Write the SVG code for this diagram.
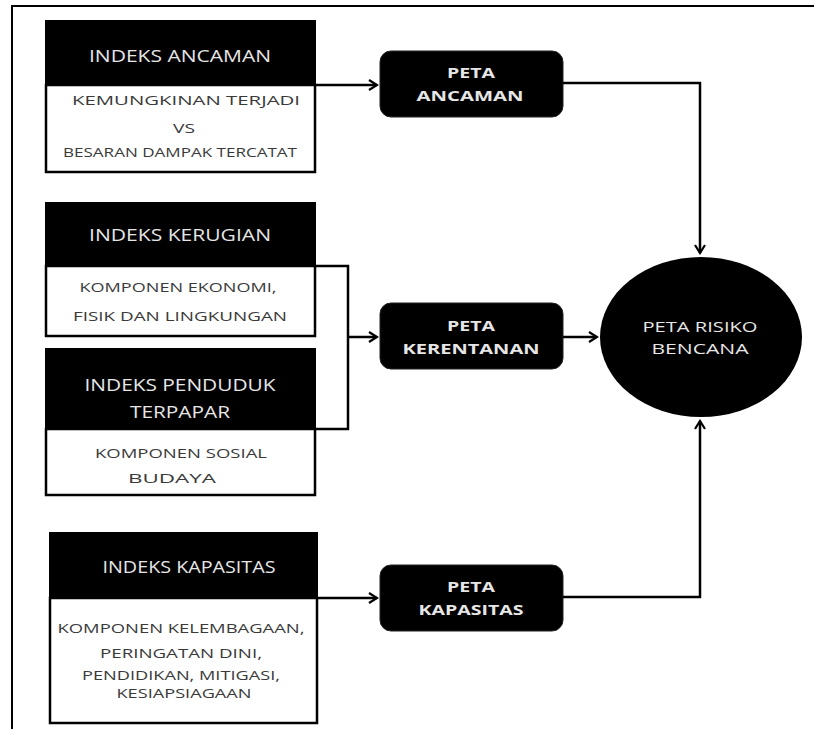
<svg xmlns="http://www.w3.org/2000/svg" width="814" height="729" viewBox="0 0 814 729">
<style>
.bg{fill:#fff}
.frame{fill:none;stroke:#000;stroke-width:2}
.hdr{fill:#000;stroke:#000;stroke-width:2}
.body{fill:#fff;stroke:#000;stroke-width:2.5}
.peta{fill:#000;stroke:#222;stroke-width:1}
.ht{font-family:"Open Sans","Noto Sans",sans-serif;font-size:16px;fill:#e6e6e6;text-anchor:middle}
.bt{font-family:"Open Sans","Noto Sans",sans-serif;font-size:12.5px;fill:#3a3a3a;text-anchor:middle}
.pt{font-family:"Open Sans","Noto Sans",sans-serif;font-size:15px;font-weight:bold;fill:#e6e6e6;text-anchor:middle}
.rt{font-family:"Open Sans","Noto Sans",sans-serif;font-size:15px;fill:#e6e6e6;text-anchor:middle}
.con{fill:none;stroke:#000;stroke-width:2.5}
</style>
<defs>
<marker id="arr" markerWidth="12" markerHeight="12" refX="10" refY="6" orient="auto" markerUnits="userSpaceOnUse">
<path d="M2,1 L10,6 L2,11" fill="none" stroke="#000" stroke-width="2.2"/>
</marker>
</defs>
<rect class="bg" x="0" y="0" width="814" height="729"/>
<path class="frame" d="M12,729 L12,6 L814,6"/>

<g id="indeks-ancaman">
<rect class="body" x="46" y="85" width="269" height="87"/>
<rect class="hdr" x="46" y="21" width="269" height="64"/>
<text class="ht" x="180" y="62" textLength="182" lengthAdjust="spacingAndGlyphs">INDEKS ANCAMAN</text>
<text class="bt" x="186" y="105" textLength="228" lengthAdjust="spacingAndGlyphs">KEMUNGKINAN TERJADI</text>
<text class="bt" x="184" y="133" textLength="22" lengthAdjust="spacingAndGlyphs">VS</text>
<text class="bt" x="180" y="157" textLength="234" lengthAdjust="spacingAndGlyphs">BESARAN DAMPAK TERCATAT</text>
</g>

<g id="indeks-kerugian">
<rect class="body" x="46" y="266" width="269" height="70"/>
<rect class="hdr" x="46" y="203" width="269" height="63"/>
<text class="ht" x="180" y="241" textLength="182" lengthAdjust="spacingAndGlyphs">INDEKS KERUGIAN</text>
<text class="bt" x="178" y="292" textLength="197" lengthAdjust="spacingAndGlyphs">KOMPONEN EKONOMI,</text>
<text class="bt" x="180" y="321" textLength="214" lengthAdjust="spacingAndGlyphs">FISIK DAN LINGKUNGAN</text>
</g>

<g id="indeks-penduduk">
<rect class="body" x="46" y="429" width="269" height="66"/>
<rect class="hdr" x="46" y="349" width="269" height="80"/>
<text class="ht" x="180" y="391" textLength="191" lengthAdjust="spacingAndGlyphs">INDEKS PENDUDUK</text>
<text class="ht" x="180" y="418" textLength="100" lengthAdjust="spacingAndGlyphs">TERPAPAR</text>
<text class="bt" x="181" y="458" textLength="172" lengthAdjust="spacingAndGlyphs">KOMPONEN SOSIAL</text>
<text class="bt" x="172" y="483" textLength="88" lengthAdjust="spacingAndGlyphs">BUDAYA</text>
</g>

<g id="indeks-kapasitas">
<rect class="body" x="50" y="598" width="267" height="125"/>
<rect class="hdr" x="50" y="533" width="267" height="65"/>
<text class="ht" x="189" y="573" textLength="173" lengthAdjust="spacingAndGlyphs">INDEKS KAPASITAS</text>
<text class="bt" x="181" y="633" textLength="247" lengthAdjust="spacingAndGlyphs">KOMPONEN KELEMBAGAAN,</text>
<text class="bt" x="181" y="658" textLength="162" lengthAdjust="spacingAndGlyphs">PERINGATAN DINI,</text>
<text class="bt" x="181" y="680" textLength="198" lengthAdjust="spacingAndGlyphs">PENDIDIKAN, MITIGASI,</text>
<text class="bt" x="184" y="698" textLength="135" lengthAdjust="spacingAndGlyphs">KESIAPSIAGAAN</text>
</g>

<g id="peta-ancaman">
<rect class="peta" x="380" y="51" width="183" height="66" rx="11"/>
<text class="pt" x="471" y="78" textLength="48" lengthAdjust="spacingAndGlyphs">PETA</text>
<text class="pt" x="470" y="101" textLength="107" lengthAdjust="spacingAndGlyphs">ANCAMAN</text>
</g>

<g id="peta-kerentanan">
<rect class="peta" x="380" y="303" width="183" height="66" rx="11"/>
<text class="pt" x="471" y="331" textLength="48" lengthAdjust="spacingAndGlyphs">PETA</text>
<text class="pt" x="471" y="354" textLength="137" lengthAdjust="spacingAndGlyphs">KERENTANAN</text>
</g>

<g id="peta-kapasitas">
<rect class="peta" x="380" y="565" width="183" height="66" rx="11"/>
<text class="pt" x="471" y="592" textLength="48" lengthAdjust="spacingAndGlyphs">PETA</text>
<text class="pt" x="471" y="615" textLength="105" lengthAdjust="spacingAndGlyphs">KAPASITAS</text>
</g>

<g id="peta-risiko">
<ellipse cx="701" cy="337" rx="101" ry="80" fill="#000"/>
<text class="rt" x="700" y="332" textLength="115" lengthAdjust="spacingAndGlyphs">PETA RISIKO</text>
<text class="rt" x="700" y="354" textLength="97" lengthAdjust="spacingAndGlyphs">BENCANA</text>
</g>

<g id="connectors">
<path class="con" d="M315,85 L377,85" marker-end="url(#arr)"/>
<path class="con" d="M563,83 L700,83 L700,253" marker-end="url(#arr)"/>
<path class="con" d="M315,266 L348,266 L348,429 L315,429"/>
<path class="con" d="M348,337 L377,337" marker-end="url(#arr)"/>
<path class="con" d="M563,337 L597,337" marker-end="url(#arr)"/>
<path class="con" d="M317,598 L377,598" marker-end="url(#arr)"/>
<path class="con" d="M563,597 L700,597 L700,421" marker-end="url(#arr)"/>
</g>
</svg>
